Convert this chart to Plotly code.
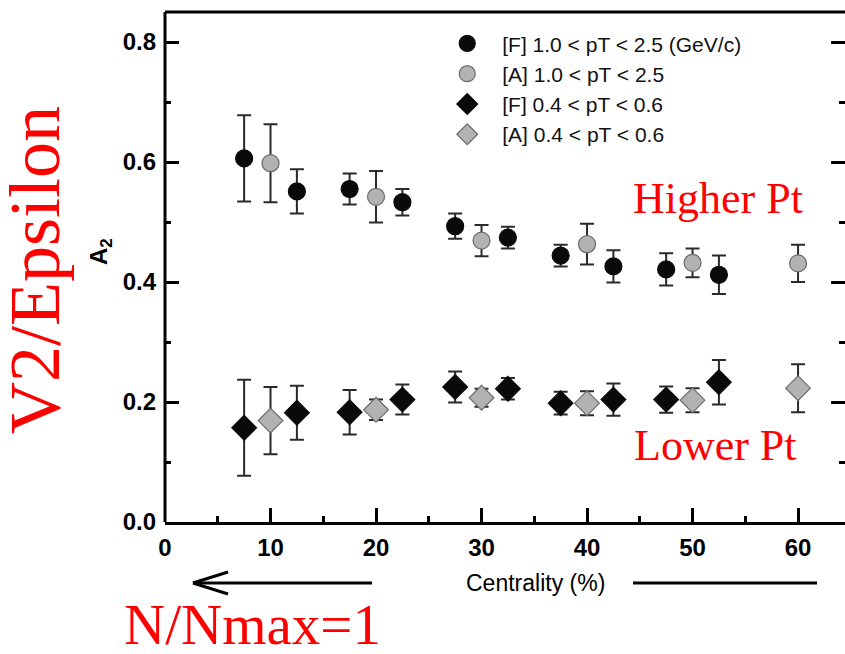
import plotly.graph_objects as go

# ---------------- data ----------------
x_f_high = [7.5, 12.5, 17.5, 22.5, 27.5, 32.5, 37.5, 42.5, 47.5, 52.5]
y_f_high = [0.606, 0.551, 0.555, 0.533, 0.493, 0.474, 0.444, 0.426, 0.421, 0.412]
e_f_high = [0.072, 0.037, 0.026, 0.022, 0.021, 0.018, 0.018, 0.027, 0.027, 0.032]

x_a_high = [10, 20, 30, 40, 50, 60]
y_a_high = [0.598, 0.542, 0.469, 0.463, 0.432, 0.431]
e_a_high = [0.065, 0.043, 0.026, 0.034, 0.024, 0.031]

x_f_low = [7.5, 12.5, 17.5, 22.5, 27.5, 32.5, 37.5, 42.5, 47.5, 52.5]
y_f_low = [0.157, 0.182, 0.183, 0.204, 0.225, 0.222, 0.198, 0.204, 0.204, 0.233]
e_f_low = [0.080, 0.045, 0.037, 0.025, 0.026, 0.018, 0.019, 0.027, 0.022, 0.037]

x_a_low = [10, 20, 30, 40, 50, 60]
y_a_low = [0.169, 0.187, 0.207, 0.198, 0.203, 0.223]
e_a_low = [0.056, 0.017, 0.015, 0.020, 0.020, 0.040]

names = ["[F] 1.0 < pT < 2.5 (GeV/c)", "[A] 1.0 < pT < 2.5",
         "[F] 0.4 < pT < 0.6", "[A] 0.4 < pT < 0.6"]

x_ticks = [0, 10, 20, 30, 40, 50, 60]
y_ticks = [0.0, 0.2, 0.4, 0.6, 0.8]

SANS = "Liberation Sans, Arial, Helvetica, sans-serif"
SERIF = "Liberation Serif, Times New Roman, serif"
BLACK = "#0a0a0a"
GRAY = "#b2b2b2"
GRAY_LINE = "#6a6a6a"
ERR = "#2a2a2a"

fig = go.Figure()

def add(xs, ys, es, name, symbol, size, fill, line):
    fig.add_trace(go.Scatter(
        x=xs, y=ys, mode="markers", name=name,
        marker=dict(symbol=symbol, size=size, color=fill,
                    line=dict(color=line, width=1.2)),
        error_y=dict(type="data", array=es, visible=True,
                     color=ERR, thickness=2, width=7),
        hoverinfo="skip",
    ))

add(x_f_high, y_f_high, e_f_high, names[0], "circle", 17, BLACK, BLACK)
add(x_a_high, y_a_high, e_a_high, names[1], "circle", 17, GRAY, GRAY_LINE)
add(x_f_low, y_f_low, e_f_low, names[2], "diamond", 19, BLACK, BLACK)
add(x_a_low, y_a_low, e_a_low, names[3], "diamond", 19, GRAY, GRAY_LINE)

fig.update_layout(
    width=845, height=654,
    margin=dict(l=165, r=0, t=12, b=132),
    paper_bgcolor="white", plot_bgcolor="white",
    font=dict(family=SANS, color="black"),
    showlegend=True,
    legend=dict(x=0.393, y=0.978, xanchor="left", yanchor="top",
                bgcolor="rgba(0,0,0,0)", borderwidth=0,
                font=dict(family=SANS, size=21, color="#111"),
                itemsizing="trace", itemwidth=60),
    xaxis=dict(range=[0, 64.45], tickvals=x_ticks, ticktext=[str(v) for v in x_ticks],
               ticks="inside", ticklen=14, tickwidth=3, tickcolor="black",
               showline=True, linewidth=3, linecolor="black", mirror=False,
               showgrid=False, zeroline=False,
               tickfont=dict(family=SANS, size=24, color="black", weight="bold"),
               minor=dict(dtick=5, tick0=0, ticks="inside", ticklen=6, tickwidth=3,
                          tickcolor="black", showgrid=False),
               ticklabelstandoff=2),
    yaxis=dict(range=[0, 0.85], tickvals=y_ticks, ticktext=[f"{v:.1f}" for v in y_ticks],
               ticks="inside", ticklen=14, tickwidth=3, tickcolor="black",
               showline=False, mirror="ticks",
               showgrid=False, zeroline=False,
               tickfont=dict(family=SANS, size=24, color="black", weight="bold"),
               minor=dict(dtick=0.1, tick0=0, ticks="inside", ticklen=6, tickwidth=3,
                          tickcolor="black", showgrid=False),
               ticklabelstandoff=8),
)

# left and top border of the frame (right border lies beyond the picture)
fig.add_shape(type="line", xref="paper", yref="paper", x0=0, x1=1, y0=1, y1=1,
              line=dict(color="black", width=3))
fig.add_shape(type="line", xref="paper", yref="paper", x0=0, x1=0, y0=0, y1=1,
              line=dict(color="black", width=3))

# centrality arrow (decoration under the x axis)
def px2paper(px, py):
    return (px - 165) / 680.0, (522 - py) / 510.0

ax0, ay = px2paper(193, 583)
ax1, _ = px2paper(372, 583)
fig.add_shape(type="line", xref="paper", yref="paper", x0=ax0, x1=ax1, y0=ay, y1=ay,
              line=dict(color="black", width=3))
hx, hy1 = px2paper(228, 572)
_, hy2 = px2paper(228, 594)
fig.add_shape(type="line", xref="paper", yref="paper", x0=ax0, x1=hx, y0=ay, y1=hy1,
              line=dict(color="black", width=3))
fig.add_shape(type="line", xref="paper", yref="paper", x0=ax0, x1=hx, y0=ay, y1=hy2,
              line=dict(color="black", width=3))
rx0, _ = px2paper(633, 583)
rx1, _ = px2paper(817, 583)
fig.add_shape(type="line", xref="paper", yref="paper", x0=rx0, x1=rx1, y0=ay, y1=ay,
              line=dict(color="black", width=3))

def ann(text, px, py, size, family, color, angle=0, bold=False):
    x, y = px2paper(px, py)
    fig.add_annotation(text=text, x=x, y=y, xref="paper", yref="paper",
                       xanchor="center", yanchor="middle", showarrow=False,
                       textangle=angle,
                       font=dict(family=family, size=size, color=color,
                                 weight="bold" if bold else "normal"))

ann("Centrality (%)", 535, 583, 23, SANS, "black")
ann("A<sub>2</sub>", 100, 252, 24, SANS, "black", angle=-90, bold=True)
ann("V2/Epsilon", 35, 270, 72, SERIF, "#ff0000", angle=-90)
ann("Higher Pt", 718, 198, 44, SERIF, "#ff0000")
ann("Lower Pt", 715, 445, 44, SERIF, "#ff0000")
ann("N/Nmax=1", 252, 624, 57, SERIF, "#ff0000")

fig.write_html("out.html", config={"displayModeBar": False})
